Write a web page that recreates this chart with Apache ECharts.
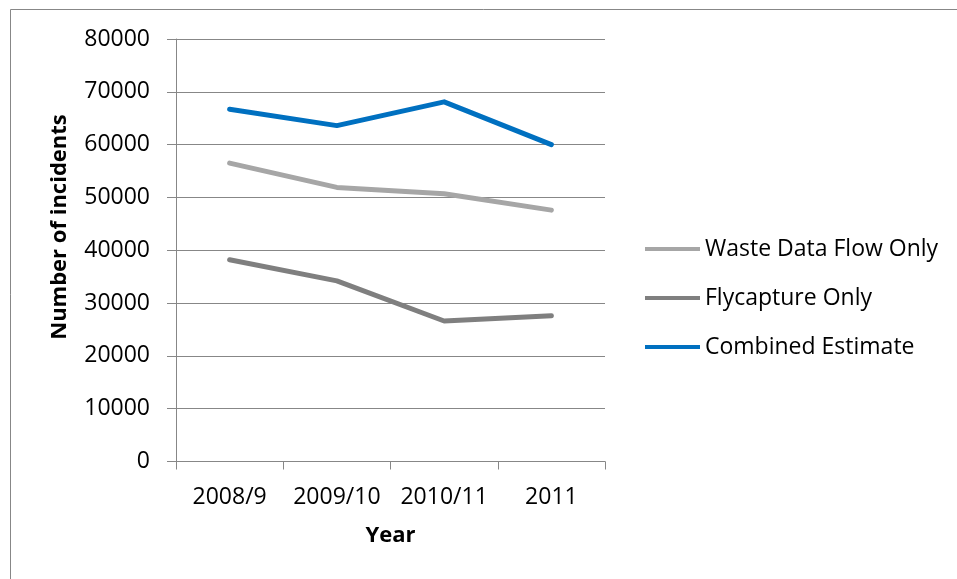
<!DOCTYPE html>
<html>
<head>
<meta charset="utf-8">
<script src="https://cdn.jsdelivr.net/npm/echarts@6/dist/echarts.min.js"></script>
<style>
  html, body { margin: 0; padding: 0; background: #fff; }
  #chart { width: 957px; height: 579px; }
</style>
</head>
<body>
<div id="chart"></div>
<script>
// Fly-tipping incidents by reporting year
const years = ['2008/9', '2009/10', '2010/11', '2011'];
const wasteDataFlow = [56500, 51900, 50700, 47600];
const flycapture = [38200, 34200, 26600, 27600];
const combined = [66700, 63600, 68100, 60000];

const seriesNames = ['Waste Data Flow Only', 'Flycapture Only', 'Combined Estimate'];
const seriesColors = ['#A6A6A6', '#7F7F7F', '#0070C0'];
const seriesData = [wasteDataFlow, flycapture, combined];

const FONT = '"Open Sans", Lato, sans-serif';
const GRID_COLOR = '#878787';

const chart = echarts.init(document.getElementById('chart'), null, { renderer: 'canvas' });

chart.setOption({
  animation: false,
  backgroundColor: '#ffffff',
  grid: { left: 176, right: 352, top: 39, bottom: 117.5, containLabel: false },
  legend: {
    orient: 'vertical',
    left: 645,
    top: 236,
    padding: 0,
    itemWidth: 55,
    itemHeight: 14,
    itemGap: 23,
    icon: 'path://M0,0 L55,0 L55,4 L0,4 Z',
    data: seriesNames,
    textStyle: { fontFamily: FONT, fontSize: 23, color: '#000', lineHeight: 26 }
  },
  xAxis: {
    type: 'category',
    data: years,
    boundaryGap: true,
    name: 'Year',
    nameLocation: 'middle',
    nameGap: 63,
    nameTextStyle: { fontFamily: FONT, fontSize: 22, fontWeight: 'bold', color: '#000' },
    axisLine: { lineStyle: { color: GRID_COLOR, width: 1 } },
    axisTick: { show: true, inside: false, length: 8, interval: 0, alignWithLabel: false, lineStyle: { color: GRID_COLOR } },
    axisLabel: { fontFamily: FONT, fontSize: 23, color: '#000', margin: 24, interval: 0 }
  },
  yAxis: {
    type: 'value',
    min: 0,
    max: 80000,
    interval: 10000,
    axisLine: { show: true, lineStyle: { color: GRID_COLOR, width: 1 } },
    axisTick: { show: true, inside: false, length: 9, lineStyle: { color: GRID_COLOR } },
    axisLabel: { fontFamily: FONT, fontSize: 23, color: '#000', margin: 26, formatter: v => String(v) },
    splitLine: { show: true, lineStyle: { color: GRID_COLOR, width: 1 } }
  },
  series: seriesNames.map((name, i) => ({
    name: name,
    type: 'line',
    data: seriesData[i],
    symbol: 'none',
    lineStyle: { color: seriesColors[i], width: 5, cap: 'round', join: 'round' },
    itemStyle: { color: seriesColors[i] }
  })),
  graphic: [
    {
      type: 'polyline',
      shape: { points: [[10.5, 579], [10.5, 9.5], [957, 9.5]] },
      style: { stroke: GRID_COLOR, lineWidth: 1, fill: null },
      silent: true
    },
    {
      type: 'text',
      x: 60,
      y: 227,
      rotation: Math.PI / 2,
      style: {
        text: 'Number of incidents',
        fontFamily: FONT,
        fontSize: 22,
        fontWeight: 'bold',
        fill: '#000',
        align: 'center',
        verticalAlign: 'middle'
      }
    }
  ]
});
</script>
</body>
</html>
